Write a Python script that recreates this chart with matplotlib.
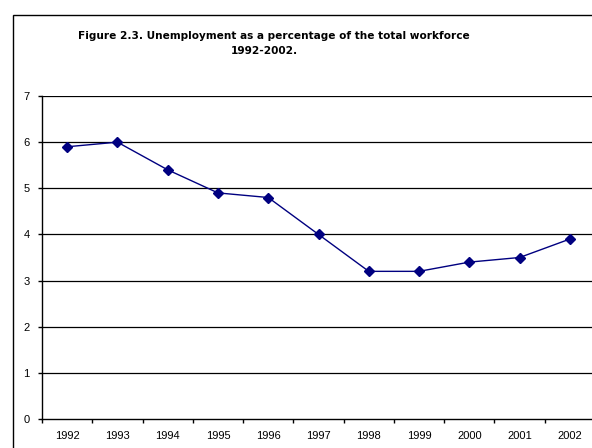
import matplotlib.pyplot as plt
from matplotlib.patches import Rectangle

plt.rcParams['font.family'] = ['Liberation Sans', 'DejaVu Sans']

# Unemployment, % of total workforce
years = ['1992', '1993', '1994', '1995', '1996', '1997',
         '1998', '1999', '2000', '2001', '2002']
unemployment = [5.9, 6.0, 5.4, 4.9, 4.8, 4.0, 3.2, 3.2, 3.4, 3.5, 3.9]

fig = plt.figure(figsize=(5.92, 4.48), dpi=100)

# chart frame (runs off the right and bottom edge)
frame = Rectangle((13 / 592, -0.2), 1.0, 0.2 + (1 - 15 / 448),
                  transform=fig.transFigure, fill=False,
                  edgecolor='black', linewidth=1.0)
fig.patches.append(frame)

ax = fig.add_axes([42 / 592, 1 - 419 / 448, 553 / 592, 323 / 448])

x = range(len(years))
ax.plot(x, unemployment, color='#000080', linewidth=1.0,
        marker='D', markersize=5, markerfacecolor='#000080',
        markeredgecolor='#000080')

ax.set_xlim(-0.5, len(years) - 0.5)
ax.set_ylim(0, 7)
ax.set_yticks(range(0, 8))
ax.set_xticks(list(x))
ax.set_xticklabels(years)
# tick marks sit between the categories
ax.set_xticks([i - 0.5 for i in range(len(years) + 1)], minor=True)
ax.tick_params(axis='x', which='major', length=0, labelsize=8, pad=8.5)
ax.tick_params(axis='x', which='minor', length=3, width=1, direction='out')
ax.tick_params(axis='y', length=3, width=1, labelsize=8, pad=6)

for v in range(1, 8):
    ax.axhline(v, color='black', linewidth=0.9, zorder=0)

for side in ['top', 'right']:
    ax.spines[side].set_visible(False)
for side in ['left', 'bottom']:
    ax.spines[side].set_linewidth(1.0)

title_kw = dict(ha='center', va='center', fontsize=7.6, fontweight='bold',
                family=['DejaVu Sans'])
fig.text(274 / 592, 1 - 36 / 448,
         'Figure 2.3. Unemployment as a percentage of the total workforce',
         **title_kw)
fig.text(264 / 592, 1 - 51 / 448, '1992-2002.', **title_kw)

fig.savefig('out.png', dpi=100)
